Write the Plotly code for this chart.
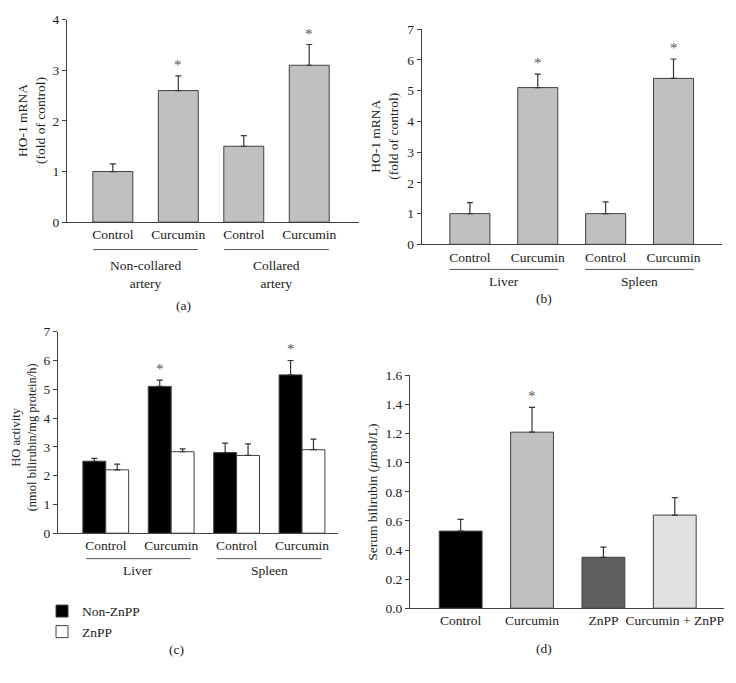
import plotly.graph_objects as go

W, H = 736, 683
FONT = "Liberation Serif"
AX = "#404040"

# ---------------- data ----------------
# Panel (a)
a_categories = ["Control", "Curcumin", "Control", "Curcumin"]
a_groups = ["Non-collared<br>artery", "Collared<br>artery"]
a_values = [1.0, 2.6, 1.5, 3.1]
a_errors = [0.15, 0.29, 0.21, 0.41]
a_sig = [False, True, False, True]
a_yticks = [0, 1, 2, 3, 4]

# Panel (b)
b_categories = ["Control", "Curcumin", "Control", "Curcumin"]
b_groups = ["Liver", "Spleen"]
b_values = [1.0, 5.1, 1.0, 5.4]
b_errors = [0.36, 0.44, 0.38, 0.63]
b_sig = [False, True, False, True]
b_yticks = [0, 1, 2, 3, 4, 5, 6, 7]

# Panel (c)
c_categories = ["Control", "Curcumin", "Control", "Curcumin"]
c_groups = ["Liver", "Spleen"]
c_series = ["Non-ZnPP", "ZnPP"]
c_non_znpp = [2.5, 5.1, 2.8, 5.5]
c_non_znpp_err = [0.10, 0.22, 0.33, 0.50]
c_znpp = [2.2, 2.83, 2.7, 2.9]
c_znpp_err = [0.20, 0.10, 0.40, 0.37]
c_sig = [False, True, False, True]
c_yticks = [0, 1, 2, 3, 4, 5, 6, 7]

# Panel (d)
d_categories = ["Control", "Curcumin", "ZnPP", "Curcumin + ZnPP"]
d_values = [0.53, 1.21, 0.35, 0.64]
d_errors = [0.08, 0.17, 0.07, 0.12]
d_colors = ["#000000", "#c0c0c0", "#606060", "#e0e0e0"]
d_sig = [False, True, False, False]
d_yticks = [0.0, 0.2, 0.4, 0.6, 0.8, 1.0, 1.2, 1.4, 1.6]


def px_x(p):
    return p / W


def px_y(p):
    return 1 - p / H


def err(arr):
    return dict(type="data", array=arr, arrayminus=[0] * len(arr), symmetric=False,
                color="#333333", thickness=1.2, width=3)


fig = go.Figure()
annotations = []
shapes = []

# ---------- panel a ----------
xa = list(range(len(a_categories)))
fig.add_trace(go.Bar(x=xa, y=a_values, width=0.61, marker=dict(color="#c0c0c0", line=dict(color=AX, width=1)),
                     error_y=err(a_errors), xaxis="x", yaxis="y", showlegend=False))
# ---------- panel b ----------
xb = list(range(len(b_categories)))
fig.add_trace(go.Bar(x=xb, y=b_values, width=0.59, marker=dict(color="#c0c0c0", line=dict(color=AX, width=1)),
                     error_y=err(b_errors), xaxis="x2", yaxis="y2", showlegend=False))
# ---------- panel c ----------
xc = list(range(len(c_categories)))
fig.add_trace(go.Bar(x=xc, y=c_non_znpp, width=0.35, offset=-0.35, name=c_series[0],
                     marker=dict(color="#000000", line=dict(color=AX, width=1)),
                     error_y=err(c_non_znpp_err), xaxis="x3", yaxis="y3", showlegend=True))
fig.add_trace(go.Bar(x=xc, y=c_znpp, width=0.35, offset=0.0, name=c_series[1],
                     marker=dict(color="#ffffff", line=dict(color=AX, width=1)),
                     error_y=err(c_znpp_err), xaxis="x3", yaxis="y3", showlegend=True))
# ---------- panel d ----------
xd = list(range(len(d_categories)))
fig.add_trace(go.Bar(x=xd, y=d_values, width=0.60, marker=dict(color=d_colors, line=dict(color=AX, width=1)),
                     error_y=err(d_errors), xaxis="x4", yaxis="y4", showlegend=False))

FS = 13.5
tickfont = dict(family=FONT, size=FS, color="#222222")


def xaxis_cfg(domain, rng, n, texts, anchor):
    return dict(domain=domain, range=rng, anchor=anchor, tickvals=list(range(n)), ticktext=texts,
                showline=True, linecolor=AX, linewidth=1, ticks="", showgrid=False, zeroline=False,
                tickfont=tickfont, fixedrange=True)


def yaxis_cfg(domain, rng, tickvals, anchor, fmt=None):
    d = dict(domain=domain, range=rng, anchor=anchor, tickvals=tickvals, showline=True, linecolor=AX,
             linewidth=1, ticks="outside", ticklen=4, tickcolor=AX, tickwidth=1, showgrid=False,
             zeroline=False, tickfont=tickfont, fixedrange=True)
    if fmt:
        d["tickformat"] = fmt
    return d


layout = dict(
    xaxis=xaxis_cfg([px_x(67), px_x(359)], [-0.70, 3.76], 4, a_categories, "y"),
    yaxis=yaxis_cfg([px_y(220), px_y(13)], [0, 4], a_yticks, "x"),
    xaxis2=xaxis_cfg([px_x(421.7), px_x(721.7)], [-0.71, 3.71], 4, b_categories, "y2"),
    yaxis2=yaxis_cfg([px_y(242.7), px_y(22.7)], [0, 7], b_yticks, "x2"),
    xaxis3=xaxis_cfg([px_x(58), px_x(338)], [-0.73, 3.55], 4, c_categories, "y3"),
    yaxis3=yaxis_cfg([px_y(538), px_y(332)], [0, 7], c_yticks, "x3"),
    xaxis4=xaxis_cfg([px_x(410), px_x(724)], [-0.71, 3.69], 4, d_categories, "y4"),
    yaxis4=yaxis_cfg([px_y(614.7), px_y(376.7)], [0, 1.6], d_yticks, "x4", ".1f"),
)

lab_font = dict(family=FONT, size=FS, color="#222222")
star_font = dict(family=FONT, size=15, color="#555555")


def stars(xs, vals, errs, sig, xref, yref):
    for x, v, e, s in zip(xs, vals, errs, sig):
        if s:
            annotations.append(dict(x=x, y=v + e, xref=xref, yref=yref, text="*", showarrow=False,
                                    yanchor="bottom", font=star_font, yshift=1))


stars(xa, a_values, a_errors, a_sig, "x", "y")
stars(xb, b_values, b_errors, b_sig, "x2", "y2")
stars([x - 0.175 for x in xc], c_non_znpp, c_non_znpp_err, c_sig, "x3", "y3")
stars(xd, d_values, d_errors, d_sig, "x4", "y4")


def groups(names, xref, line_y, text_y):
    for i, name in enumerate(names):
        cx = 2 * i + 0.5
        shapes.append(dict(type="line", xref=xref, yref="paper", x0=cx - 0.8, x1=cx + 0.8,
                           y0=px_y(line_y), y1=px_y(line_y), line=dict(color="#555555", width=1)))
        annotations.append(dict(x=cx, y=px_y(text_y), xref=xref, yref="paper", text=name, showarrow=False,
                                font=lab_font, yanchor="middle"))


groups(a_groups, "x", 248, 274)
groups(b_groups, "x2", 268.3, 280.7)
groups(c_groups, "x3", 564, 576)


def ylab(text, xpx, ypx, size=FS):
    annotations.append(dict(x=px_x(xpx), y=px_y(ypx), xref="paper", yref="paper", text=text, textangle=-90,
                            showarrow=False, font=dict(family=FONT, size=size, color="#222222"),
                            xanchor="center", yanchor="middle"))


ylab("HO-1 mRNA<br>(fold of control)", 32, 116.5)
ylab("HO-1 mRNA<br>(fold of control)", 385, 132.7)
ylab("HO activity<br>(nmol bilirubin/mg protein/h)", 24, 440, 12.5)
ylab("Serum bilirubin (<i>μ</i>mol/L)", 373, 495.7)

for t, xp, yp in [("(a)", 183, 305.7), ("(b)", 544, 298), ("(c)", 176, 657), ("(d)", 544, 656)]:
    annotations.append(dict(x=px_x(xp), y=px_y(yp), xref="paper", yref="paper", text=t, showarrow=False,
                            font=lab_font, xanchor="center", yanchor="middle"))

fig.update_layout(
    **layout,
    width=W, height=H, margin=dict(l=0, r=0, t=0, b=0),
    paper_bgcolor="white", plot_bgcolor="white",
    barmode="overlay",
    annotations=annotations, shapes=shapes,
    font=dict(family=FONT, size=FS, color="#222222"),
    legend=dict(x=px_x(42), y=px_y(602), xanchor="left", yanchor="top", bgcolor="rgba(0,0,0,0)",
                font=lab_font, itemwidth=30, tracegroupgap=0),
)

fig.write_html("out.html", config={"displayModeBar": False},
               post_script="document.body.style.margin='0';document.body.style.overflow='hidden';")
